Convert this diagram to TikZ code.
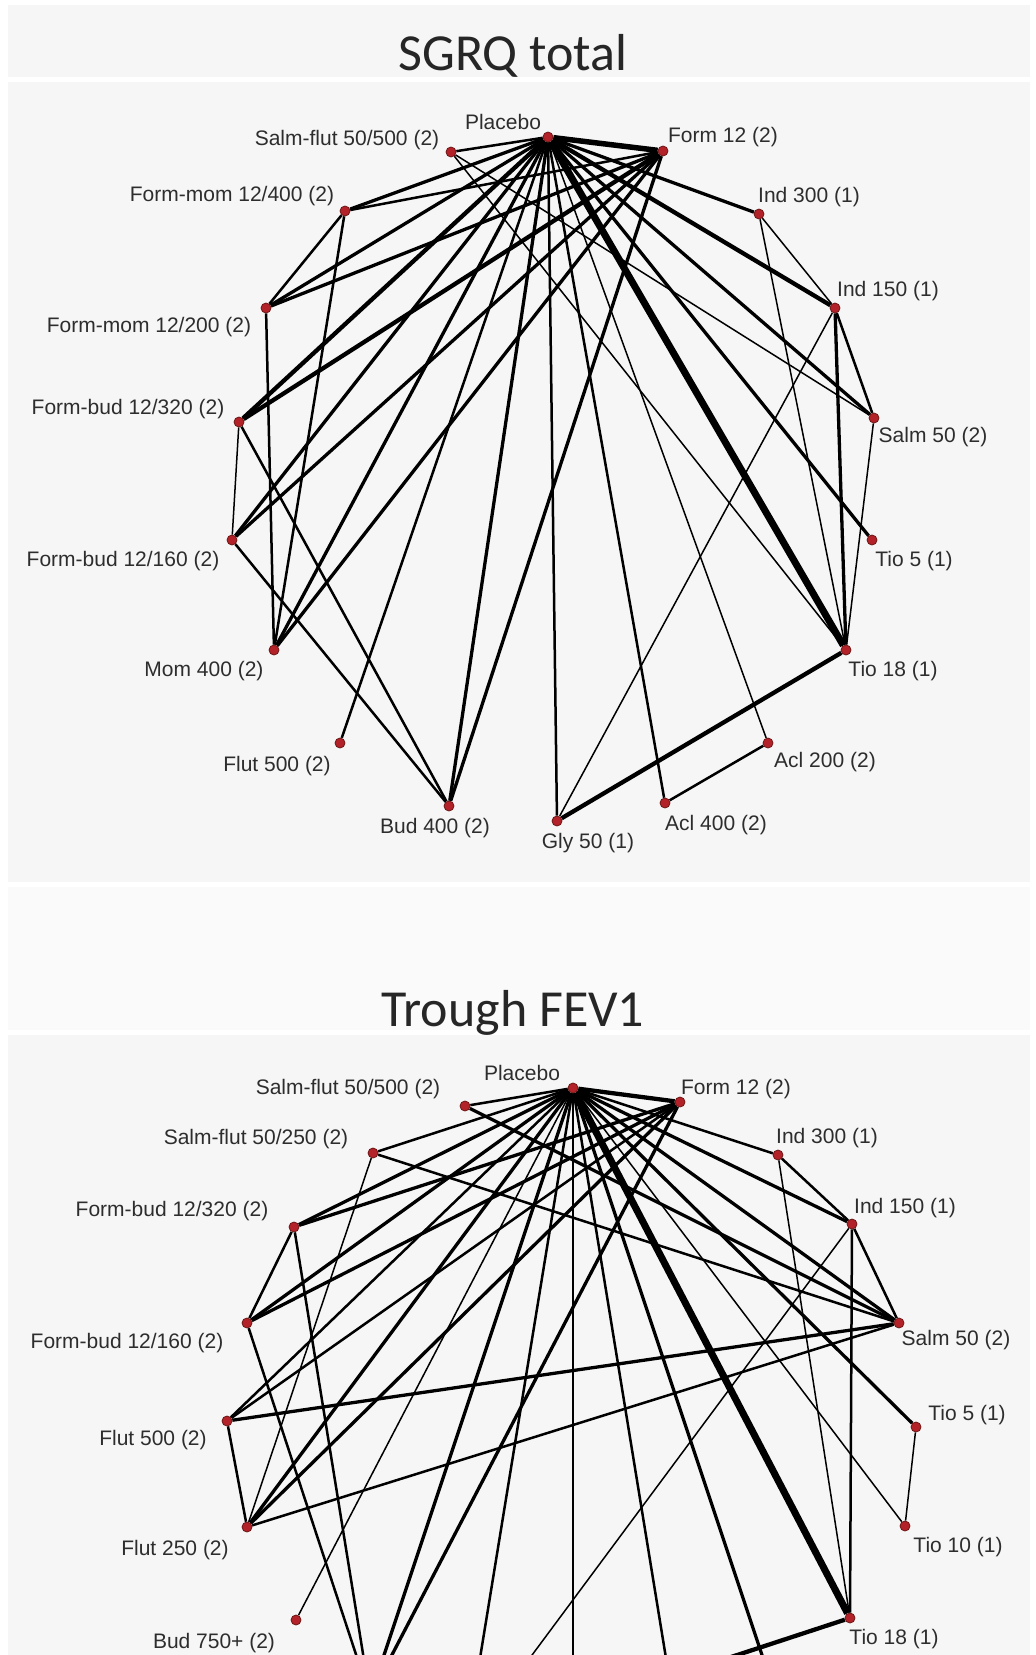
\documentclass[tikz,border=0pt]{standalone}
\usepackage{fontspec}
\setmainfont{Liberation Sans}
\newfontfamily\titlefont{Carlito}

\definecolor{panel}{RGB}{246,246,246}
\definecolor{dotred}{RGB}{178,34,40}
\definecolor{dotrim}{RGB}{110,22,22}
\definecolor{labelgray}{RGB}{45,45,45}

\pgfdeclarelayer{bg}
\pgfdeclarelayer{edges}
\pgfsetlayers{bg,edges,main}

\tikzset{
  dot/.style={circle, fill=dotred, draw=dotrim, line width=0.8pt, minimum size=10pt, inner sep=0pt},
  lbl/.style={inner sep=0pt, text=labelgray, font=\fontsize{21}{24}\selectfont},
  ttl/.style={inner sep=0pt, anchor=base, text=black!85, font=\titlefont\fontsize{52}{60}\selectfont},
  e1/.style={line width=1.5pt},
  e2/.style={line width=2.5pt},
  e3/.style={line width=3.3pt},
  e4/.style={line width=4.3pt},
  e5/.style={line width=5.5pt},
  e6/.style={line width=7pt}
}

\begin{document}
\begin{tikzpicture}[x=1pt, y=-1pt]
  \useasboundingbox (0,0) rectangle (1036,1655);

  % panels
  \begin{pgfonlayer}{bg}
    \fill[white] (0,0) rectangle (1036,1655);
    \fill[panel] (8,5) rectangle (1030,77);
    \fill[panel] (8,82) rectangle (1030,882);
    \fill[panel!60!white] (8,887) rectangle (1030,1030);
    \fill[panel] (8,1035) rectangle (1030,1655);
  \end{pgfonlayer}

  \node[ttl] (t1) at (513,70) {SGRQ total};
  \node[ttl] (t2) at (513,1026) {Trough FEV1};

  % SGRQ total
  \node[dot] (sP) at (548,137) {};
  \node[dot] (sSF5) at (451,152) {};
  \node[dot] (sF12) at (663,151) {};
  \node[dot] (sFM4) at (345,211) {};
  \node[dot] (sI300) at (759,214) {};
  \node[dot] (sFM2) at (266,308) {};
  \node[dot] (sI150) at (835,308) {};
  \node[dot] (sFB3) at (239,422) {};
  \node[dot] (sS50) at (874,418) {};
  \node[dot] (sFB1) at (232,540) {};
  \node[dot] (sT5) at (872,540) {};
  \node[dot] (sM400) at (274,650) {};
  \node[dot] (sT18) at (846,650) {};
  \node[dot] (sF500) at (340,743) {};
  \node[dot] (sA200) at (768,743) {};
  \node[dot] (sB400) at (449,806) {};
  \node[dot] (sA400) at (665,803) {};
  \node[dot] (sG50) at (557,821) {};

  \node[lbl] (sPl) at (503,122) {Placebo};
  \node[lbl] (sSF5l) at (347,140) {Salm-flut 50/500 (2)};
  \node[lbl] (sF12l) at (723,137) {Form 12 (2)};
  \node[lbl] (sFM4l) at (232,196) {Form-mom 12/400 (2)};
  \node[lbl] (sI300l) at (809,197) {Ind 300 (1)};
  \node[lbl] (sFM2l) at (149,327) {Form-mom 12/200 (2)};
  \node[lbl] (sI150l) at (888,291) {Ind 150 (1)};
  \node[lbl] (sFB3l) at (128,409) {Form-bud 12/320 (2)};
  \node[lbl] (sS50l) at (933,437) {Salm 50 (2)};
  \node[lbl] (sFB1l) at (123,561) {Form-bud 12/160 (2)};
  \node[lbl] (sT5l) at (914,561) {Tio 5 (1)};
  \node[lbl] (sM400l) at (204,671) {Mom 400 (2)};
  \node[lbl] (sT18l) at (893,671) {Tio 18 (1)};
  \node[lbl] (sF500l) at (277,766) {Flut 500 (2)};
  \node[lbl] (sA200l) at (825,762) {Acl 200 (2)};
  \node[lbl] (sB400l) at (435,828) {Bud 400 (2)};
  \node[lbl] (sA400l) at (716,825) {Acl 400 (2)};
  \node[lbl] (sG50l) at (588,843) {Gly 50 (1)};

  % Trough FEV1
  \node[dot] (fP) at (573,1088) {};
  \node[dot] (fSF5) at (465,1106) {};
  \node[dot] (fF12) at (680,1102) {};
  \node[dot] (fSF25) at (373,1153) {};
  \node[dot] (fI300) at (778,1155) {};
  \node[dot] (fFB3) at (294,1227) {};
  \node[dot] (fI150) at (852,1224) {};
  \node[dot] (fFB1) at (247,1323) {};
  \node[dot] (fS50) at (899,1323) {};
  \node[dot] (fF500) at (227,1421) {};
  \node[dot] (fT5) at (916,1427) {};
  \node[dot] (fF250) at (247,1527) {};
  \node[dot] (fT10) at (905,1526) {};
  \node[dot] (fB750) at (296,1620) {};
  \node[dot] (fT18) at (850,1618) {};
  % below the cut
  \coordinate (fB400) at (370,1697);
  \coordinate (fG50) at (466,1744);
  \coordinate (fX270) at (573,1761);
  \coordinate (fX288) at (680,1744);
  \coordinate (fX306) at (776,1697);

  \node[lbl] (fPl) at (522,1073) {Placebo};
  \node[lbl] (fSF5l) at (348,1089) {Salm-flut 50/500 (2)};
  \node[lbl] (fF12l) at (736,1089) {Form 12 (2)};
  \node[lbl] (fSF25l) at (256,1139) {Salm-flut 50/250 (2)};
  \node[lbl] (fI300l) at (827,1138) {Ind 300 (1)};
  \node[lbl] (fFB3l) at (172,1211) {Form-bud 12/320 (2)};
  \node[lbl] (fI150l) at (905,1208) {Ind 150 (1)};
  \node[lbl] (fFB1l) at (127,1343) {Form-bud 12/160 (2)};
  \node[lbl] (fS50l) at (956,1340) {Salm 50 (2)};
  \node[lbl] (fF500l) at (153,1440) {Flut 500 (2)};
  \node[lbl] (fT5l) at (967,1415) {Tio 5 (1)};
  \node[lbl] (fF250l) at (175,1550) {Flut 250 (2)};
  \node[lbl] (fT10l) at (958,1547) {Tio 10 (1)};
  \node[lbl] (fB750l) at (214,1643) {Bud 750+ (2)};
  \node[lbl] (fT18l) at (894,1639) {Tio 18 (1)};

  \begin{pgfonlayer}{edges}
    \clip (0,0) rectangle (1036,1655);
    \path[draw]
      (sP) edge[e2] (sSF5)
      (sP) edge[e5] (sF12)
      (sP) edge[e3] (sFM4)
      (sP) edge[e3] (sFM2)
      (sP) edge[e4] (sFB3)
      (sP) edge[e3] (sFB1)
      (sP) edge[e3] (sM400)
      (sP) edge[e2] (sF500)
      (sP) edge[e3] (sB400)
      (sP) edge[e2] (sG50)
      (sP) edge[e2] (sA400)
      (sP) edge[e1] (sA200)
      (sP) edge[e6] (sT18)
      (sP) edge[e3] (sT5)
      (sP) edge[e3] (sS50)
      (sP) edge[e4] (sI150)
      (sP) edge[e3] (sI300);
    \path[draw]
      (sF12) edge[e2] (sFM4)
      (sF12) edge[e3] (sFM2)
      (sF12) edge[e4] (sFB3)
      (sF12) edge[e3] (sFB1)
      (sF12) edge[e3] (sM400)
      (sF12) edge[e3] (sB400)
      (sSF5) edge[e1] (sS50)
      (sSF5) edge[e1] (sT18)
      (sFM4) edge[e2] (sFM2)
      (sFM4) edge[e2] (sM400)
      (sFM2) edge[e2] (sM400)
      (sFB3) edge[e1] (sFB1)
      (sFB3) edge[e2] (sB400)
      (sFB1) edge[e2] (sB400)
      (sI300) edge[e1] (sI150)
      (sI300) edge[e1] (sT18)
      (sI150) edge[e2] (sS50)
      (sI150) edge[e3] (sT18)
      (sI150) edge[e1] (sG50)
      (sS50) edge[e1] (sT18)
      (sT18) edge[e4] (sG50)
      (sA400) edge[e2] (sA200);

    \path[draw]
      (fP) edge[e2] (fSF5)
      (fP) edge[e4] (fF12)
      (fP) edge[e2] (fSF25)
      (fP) edge[e3] (fFB3)
      (fP) edge[e3] (fFB1)
      (fP) edge[e2] (fF500)
      (fP) edge[e3] (fF250)
      (fP) edge[e1] (fB750)
      (fP) edge[e3] (fB400)
      (fP) edge[e2] (fG50)
      (fP) edge[e1] (fX270)
      (fP) edge[e2] (fX288)
      (fP) edge[e3] (fX306)
      (fP) edge[e6] (fT18)
      (fP) edge[e1] (fT10)
      (fP) edge[e3] (fT5)
      (fP) edge[e3] (fS50)
      (fP) edge[e3] (fI150)
      (fP) edge[e2] (fI300);
    \path[draw]
      (fF12) edge[e3] (fFB3)
      (fF12) edge[e3] (fFB1)
      (fF12) edge[e2] (fF500)
      (fF12) edge[e3] (fF250)
      (fF12) edge[e3] (fB400)
      (fSF5) edge[e3] (fS50)
      (fSF25) edge[e2] (fS50)
      (fSF25) edge[e1] (fF250)
      (fFB3) edge[e2] (fFB1)
      (fFB3) edge[e2] (fB400)
      (fFB1) edge[e2] (fB400)
      (fF500) edge[e2] (fF250)
      (fF500) edge[e3] (fS50)
      (fF250) edge[e2] (fS50)
      (fI300) edge[e2] (fI150)
      (fI300) edge[e1] (fT18)
      (fI150) edge[e2] (fS50)
      (fI150) edge[e2] (fT18)
      (fI150) edge[e1] (fG50)
      (fT5) edge[e1] (fT10)
      (fT18) edge[e4] (fG50);
  \end{pgfonlayer}
\end{tikzpicture}
\end{document}
